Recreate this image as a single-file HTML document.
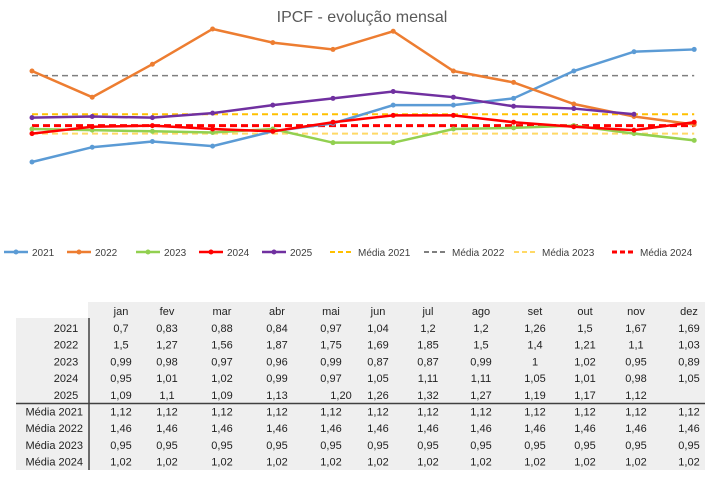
<!DOCTYPE html>
<html><head><meta charset="utf-8"><style>
body{margin:0;width:721px;height:477px;background:#fff;font-family:"Liberation Sans",sans-serif;overflow:hidden;position:relative}
svg{position:absolute;left:0;top:0}
</style></head><body>
<svg width="721" height="477" xmlns="http://www.w3.org/2000/svg" font-family="Liberation Sans, sans-serif">
<text x="362" y="22" text-anchor="middle" font-size="16" fill="#595959">IPCF - evolução mensal</text>
<g id="chart"></g>
<g id="legend" font-size="10" fill="#404040"></g>
<rect x="88" y="302" width="617" height="16" fill="#efefef"/>
<rect x="16" y="318" width="689" height="152" fill="#efefef"/>
<line x1="89" y1="318" x2="89" y2="470" stroke="#404040" stroke-width="1.5"/>
<line x1="16" y1="403.5" x2="705" y2="403.5" stroke="#404040" stroke-width="1.5"/>
<g id="table" font-size="11" fill="#222"></g>
</svg>
<script>
const NS="http://www.w3.org/2000/svg";
function el(p,t,a,txt){const e=document.createElementNS(NS,t);for(const k in a)e.setAttribute(k,a[k]);if(txt!==undefined)e.textContent=txt;document.getElementById(p).appendChild(e);return e;}
const X=i=>32+i*60.2, Y=v=>162-(v-0.7)*113.7;
const series=[
["2021","#5b9bd5",[0.7,0.83,0.88,0.84,0.97,1.04,1.2,1.2,1.26,1.5,1.67,1.69]],
["2022","#ed7d31",[1.5,1.27,1.56,1.87,1.75,1.69,1.85,1.5,1.4,1.21,1.1,1.03]],
["2023","#92d050",[0.99,0.98,0.97,0.96,0.99,0.87,0.87,0.99,1,1.02,0.95,0.89]],
["2024","#ff0000",[0.95,1.01,1.02,0.99,0.97,1.05,1.11,1.11,1.05,1.01,0.98,1.05]],
["2025","#7030a0",[1.09,1.1,1.09,1.13,1.20,1.26,1.32,1.27,1.19,1.17,1.12]]];
const avgs=[["Média 2021","#ffc000",1.12,"6,4",2],["Média 2022","#7f7f7f",1.46,"6,4",1.5],["Média 2023","#ffd966",0.95,"6,4",2],["Média 2024","#ff0000",1.02,"7,4",3]];
avgs.forEach(a=>el("chart","line",{x1:X(0),x2:X(11),y1:Y(a[2]),y2:Y(a[2]),stroke:a[1],"stroke-width":a[4],"stroke-dasharray":a[3]}));
series.forEach(s=>{el("chart","polyline",{points:s[2].map((v,i)=>X(i)+","+Y(v)).join(" "),fill:"none",stroke:s[1],"stroke-width":2.5});
 s[2].forEach((v,i)=>el("chart","circle",{cx:X(i),cy:Y(v),r:2.5,fill:s[1]}));});
// legend
let lx=[4,67,136,199,262,330,424,514,612];
const leg=series.map(s=>[s[0],s[1],null]).concat(avgs.map(a=>[a[0],a[1],a[3]]));
leg.forEach((l,i)=>{const x=lx[i];
 if(l[2]){el("legend","line",{x1:x,x2:x+22,y1:252,y2:252,stroke:l[1],"stroke-width":i==8?3:2,"stroke-dasharray":"5,3"});}
 else{el("legend","line",{x1:x,x2:x+24,y1:252,y2:252,stroke:l[1],"stroke-width":2.5});el("legend","circle",{cx:x+12,cy:252,r:2.5,fill:l[1]});}
 el("legend","text",{x:x+(l[2]?28:28),y:256},l[0]);});
// table
const cx=[121,167,222,277,331,378,428,481,535,585,636,689];
const mon=["jan","fev","mar","abr","mai","jun","jul","ago","set","out","nov","dez"];
mon.forEach((m,i)=>el("table","text",{x:cx[i],y:315,"text-anchor":"middle"},m));
const f=v=>String(v).replace(".",",");
const rows=[["2021",["0,7","0,83","0,88","0,84","0,97","1,04","1,2","1,2","1,26","1,5","1,67","1,69"]],
["2022",["1,5","1,27","1,56","1,87","1,75","1,69","1,85","1,5","1,4","1,21","1,1","1,03"]],
["2023",["0,99","0,98","0,97","0,96","0,99","0,87","0,87","0,99","1","1,02","0,95","0,89"]],
["2024",["0,95","1,01","1,02","0,99","0,97","1,05","1,11","1,11","1,05","1,01","0,98","1,05"]],
["2025",["1,09","1,1","1,09","1,13","1,20","1,26","1,32","1,27","1,19","1,17","1,12",""]],
["Média 2021",Array(12).fill("1,12")],["Média 2022",Array(12).fill("1,46")],["Média 2023",Array(12).fill("0,95")],["Média 2024",Array(12).fill("1,02")]];
rows.forEach((r,j)=>{const y=332+j*16.7;
 el("table","text",{x:j<5?66:83,y:y,"text-anchor":j<5?"middle":"end"},r[0]);
 r[1].forEach((v,i)=>el("table","text",{x:(j==4&&i==4)?cx[i]+10:cx[i],y:y,"text-anchor":"middle"},v));});
</script>
</body></html>
